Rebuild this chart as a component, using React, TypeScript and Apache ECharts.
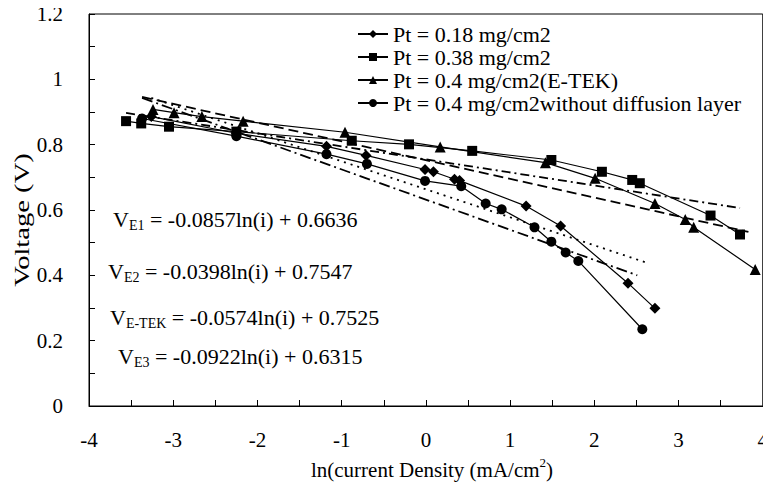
import React, { useEffect, useRef } from "react";
import * as echarts from "echarts";

const FONT = "Liberation Serif";

// Pt = 0.18 mg/cm2 (diamonds)
const pt018: [number, number][] = [
  [-3.26, 0.886], [-2.25, 0.835], [-1.18, 0.795], [-0.71, 0.767], [-0.01, 0.724],
  [0.09, 0.717], [0.34, 0.694], [0.4, 0.69], [1.19, 0.612], [1.6, 0.551],
  [2.4, 0.376], [2.72, 0.299],
];
// Pt = 0.38 mg/cm2 (squares)
const pt038: [number, number][] = [
  [-3.56, 0.872], [-3.38, 0.865], [-3.05, 0.855], [-2.25, 0.84], [-0.88, 0.812],
  [-0.2, 0.801], [0.55, 0.781], [1.49, 0.753], [2.09, 0.717], [2.45, 0.692],
  [2.54, 0.682], [3.38, 0.583], [3.73, 0.525],
];
// Pt = 0.4 mg/cm2 (E-TEK) (triangles)
const ptETEK: [number, number][] = [
  [-3.24, 0.908], [-2.99, 0.898], [-2.66, 0.886], [-2.17, 0.872], [-0.96, 0.838],
  [0.17, 0.793], [1.42, 0.745], [2.01, 0.697], [2.72, 0.62], [3.08, 0.571],
  [3.18, 0.547], [3.91, 0.418],
];
// Pt = 0.4 mg/cm2 without diffusion layer (circles)
const ptNoGDL: [number, number][] = [
  [-3.37, 0.88], [-2.25, 0.826], [-1.18, 0.771], [-0.7, 0.741], [-0.01, 0.689],
  [0.42, 0.673], [0.71, 0.62], [0.9, 0.602], [1.29, 0.547], [1.49, 0.503],
  [1.66, 0.47], [1.81, 0.444], [2.57, 0.235],
];

// Trend lines (end points)
const trendE1: [number, number][] = [[-3.26, 0.943], [2.64, 0.437]];
const trendE2: [number, number][] = [[-3.56, 0.897], [3.73, 0.606]];
const trendETEK: [number, number][] = [[-3.37, 0.946], [3.83, 0.533]];
const trendE3: [number, number][] = [[-3.37, 0.943], [2.51, 0.4]];

const seriesNames = [
  "Pt = 0.18 mg/cm2",
  "Pt = 0.38 mg/cm2",
  "Pt = 0.4 mg/cm2(E-TEK)",
  "Pt = 0.4 mg/cm2without diffusion layer",
];

const equations = [
  { sub: "E1", rest: " = -0.0857ln(i) + 0.6636" },
  { sub: "E2", rest: " = -0.0398ln(i) + 0.7547" },
  { sub: "E-TEK", rest: " = -0.0574ln(i) + 0.7525" },
  { sub: "E3", rest: " = -0.0922ln(i) + 0.6315" },
];
const eqPos = [
  [113, 218],
  [108, 270],
  [110, 316],
  [118, 355],
];

export default function App() {
  const ref = useRef<HTMLDivElement>(null);
  useEffect(() => {
    if (!ref.current) return;
    const chart = echarts.init(ref.current, undefined, { renderer: "svg" });
    const dataLine = (name: string, data: [number, number][], symbol: string, size: number) => ({
      name,
      type: "line",
      data,
      symbol,
      symbolSize: size,
      showSymbol: true,
      itemStyle: { color: "#000" },
      lineStyle: { color: "#000", width: 1.2 },
      z: 3,
    });
    const trend = (data: [number, number][], dash: number[]) => ({
      type: "line",
      data,
      symbol: "none",
      lineStyle: { color: "#000", width: 1.8, type: dash },
      z: 2,
      silent: true,
    });
    chart.setOption({
      animation: false,
      backgroundColor: "#fff",
      textStyle: { fontFamily: FONT, color: "#000" },
      grid: {
        left: 89,
        right: 8,
        top: 14,
        bottom: 92,
        show: true,
        borderColor: "#000",
        borderWidth: 1,
      },
      legend: {
        data: seriesNames,
        orient: "vertical",
        left: 352,
        top: 18,
        itemWidth: 30,
        itemHeight: 10,
        itemGap: 1,
        textStyle: { fontFamily: FONT, fontSize: 22, color: "#000", lineHeight: 22 },
      },
      xAxis: {
        type: "value",
        min: -4,
        max: 4,
        interval: 1,
        axisLine: { onZero: false, lineStyle: { color: "#000", width: 1 } },
        axisTick: { inside: true, length: 6, lineStyle: { color: "#000" } },
        minorTick: { show: true, splitNumber: 2, length: 6, lineStyle: { color: "#000" } },
        splitLine: { show: false },
        axisLabel: { fontFamily: FONT, fontSize: 21, color: "#000", margin: 23 },
      },
      yAxis: {
        type: "value",
        min: 0,
        max: 1.2,
        interval: 0.2,
        axisLine: { show: true, onZero: false, lineStyle: { color: "#000", width: 1 } },
        axisTick: { show: true, inside: true, length: 6, lineStyle: { color: "#000" } },
        minorTick: { show: true, splitNumber: 2, length: 6, lineStyle: { color: "#000" } },
        splitLine: { show: false },
        axisLabel: { fontFamily: FONT, fontSize: 21, color: "#000", margin: 26 },
      },
      graphic: [
        ...equations.map((e, i) => ({
          type: "text",
          x: eqPos[i][0],
          y: eqPos[i][1],
          style: {
            text: `{v|V}{s|${e.sub}}{v|${e.rest}}`,
            fill: "#000",
            fontFamily: FONT,
            fontSize: 22,
            verticalAlign: "middle",
            align: "left",
            rich: {
              v: { fontFamily: FONT, fontSize: 22, lineHeight: 24, verticalAlign: "bottom", fill: "#000" },
              s: { fontFamily: FONT, fontSize: 14, lineHeight: 14, verticalAlign: "bottom", fill: "#000", padding: [0, 0, -2, 0] },
            },
          },
        })),
        {
          type: "text",
          x: 22,
          y: 220,
          rotation: Math.PI / 2,
          scaleX: 1.3,
          style: {
            text: "Voltage (V)",
            fill: "#000",
            fontFamily: FONT,
            fontSize: 22,
            align: "center",
            verticalAlign: "middle",
          },
        },
        {
          type: "text",
          x: 432,
          y: 468,
          style: {
            text: "{v|ln(current Density (mA/cm}{p|2}{v|)}",
            fill: "#000",
            fontFamily: FONT,
            fontSize: 21,
            align: "center",
            verticalAlign: "middle",
            rich: {
              v: { fontFamily: FONT, fontSize: 21, lineHeight: 24, verticalAlign: "bottom", fill: "#000" },
              p: { fontFamily: FONT, fontSize: 13, lineHeight: 13, verticalAlign: "top", fill: "#000" },
            },
          },
        },
      ],
      series: [
        trend(trendE1, [2, 5]),
        trend(trendE2, [9, 4, 2, 4]),
        trend(trendETEK, [10, 5]),
        trend(trendE3, [11, 4, 2, 4]),
        dataLine(seriesNames[0], pt018, "diamond", 11),
        dataLine(seriesNames[1], pt038, "rect", 10),
        dataLine(seriesNames[2], ptETEK, "triangle", 11),
        dataLine(seriesNames[3], ptNoGDL, "circle", 10),
      ],
    });
    return () => chart.dispose();
  }, []);
  return <div ref={ref} style={{ width: 771, height: 498, margin: -8 }} />;
}
